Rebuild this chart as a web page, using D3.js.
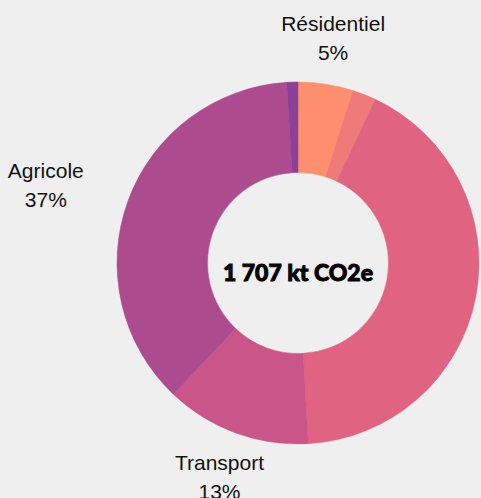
<!DOCTYPE html>
<html>
<head>
<meta charset="utf-8">
<script src="https://cdn.jsdelivr.net/npm/d3@7"></script>
<style>
  html, body { margin: 0; padding: 0; background: #efefef; }
  #donut-chart { width: 481px; height: 498px; overflow: hidden; }
  .slice-label { font-family: "Liberation Sans", Arial, sans-serif; font-size: 21px; fill: #111; }
  .total-label { font-family: Lato, "DejaVu Sans", sans-serif; font-weight: 900; font-size: 23px; fill: #000; stroke: #000; stroke-width: 0.9px; }
</style>
</head>
<body>
<div id="donut-chart"></div>
<script>
// Emissions by sector (kt CO2e), clockwise from 12 o'clock
const sectors = ["Résidentiel", "Tertiaire", "Industrie", "Transport", "Agricole", "Déchets"];
const emissions = [84, 36, 718, 222, 630, 17];
const sliceColors = ["#fd8f6f", "#ef7a7a", "#e06381", "#ca5689", "#ad4b8f", "#8c4097"];
// only these labels are visible in the original (others fall outside the frame)
const labelled = ["Résidentiel", "Transport", "Agricole"];
const totalLabel = "1 707 kt CO2e";

function createDonutChart() {
    d3.select("#donut-chart svg").remove();

    const width = 481, height = 498;
    const cx = 298, cy = 263;
    const outerRadius = 181, innerRadius = 90.5;
    const labelRadius = 228;

    const svg = d3.select("#donut-chart")
        .append("svg")
        .attr("width", width)
        .attr("height", height);

    svg.append("rect")
        .attr("width", width)
        .attr("height", height)
        .attr("fill", "#efefef");

    const g = svg.append("g")
        .attr("transform", `translate(${cx},${cy})`);

    const data = sectors.map((s, i) => ({name: s, value: emissions[i], color: sliceColors[i]}));
    const total = d3.sum(data, d => d.value);

    const pie = d3.pie()
        .sort(null)
        .value(d => d.value);

    const arc = d3.arc()
        .innerRadius(innerRadius)
        .outerRadius(outerRadius);

    const arcs = pie(data);

    g.selectAll(".slice")
        .data(arcs)
        .enter()
        .append("path")
        .attr("class", "slice")
        .attr("d", arc)
        .attr("fill", d => d.data.color)
        .attr("stroke", d => d.data.color)
        .attr("stroke-width", 0.5);

    // Outside labels: name + percentage
    arcs.filter(d => labelled.includes(d.data.name)).forEach(d => {
        const mid = (d.startAngle + d.endAngle) / 2;
        const px = labelRadius * Math.sin(mid);
        const py = -labelRadius * Math.cos(mid);

        const label = g.append("g").attr("class", "slice-label-group");
        label.append("text")
            .attr("class", "slice-label")
            .attr("text-anchor", "middle")
            .attr("y", -6)
            .text(d.data.name);
        label.append("text")
            .attr("class", "slice-label")
            .attr("text-anchor", "middle")
            .attr("y", 23)
            .text(Math.round(d.data.value / total * 100) + "%");

        // side labels sit beside the point, top/bottom labels are centred on it
        let shift = 0;
        if (Math.abs(Math.sin(mid)) > 0.7) {
            const w = label.node().getBBox().width;
            shift = Math.sign(Math.sin(mid)) * w / 2;
        }
        label.attr("transform", `translate(${px + shift},${py - 1})`);
    });

    // Total in the hole
    g.append("text")
        .attr("class", "total-label")
        .attr("text-anchor", "middle")
        .attr("x", 0)
        .attr("y", 18)
        .text(totalLabel);
}

createDonutChart();
</script>
</body>
</html>
